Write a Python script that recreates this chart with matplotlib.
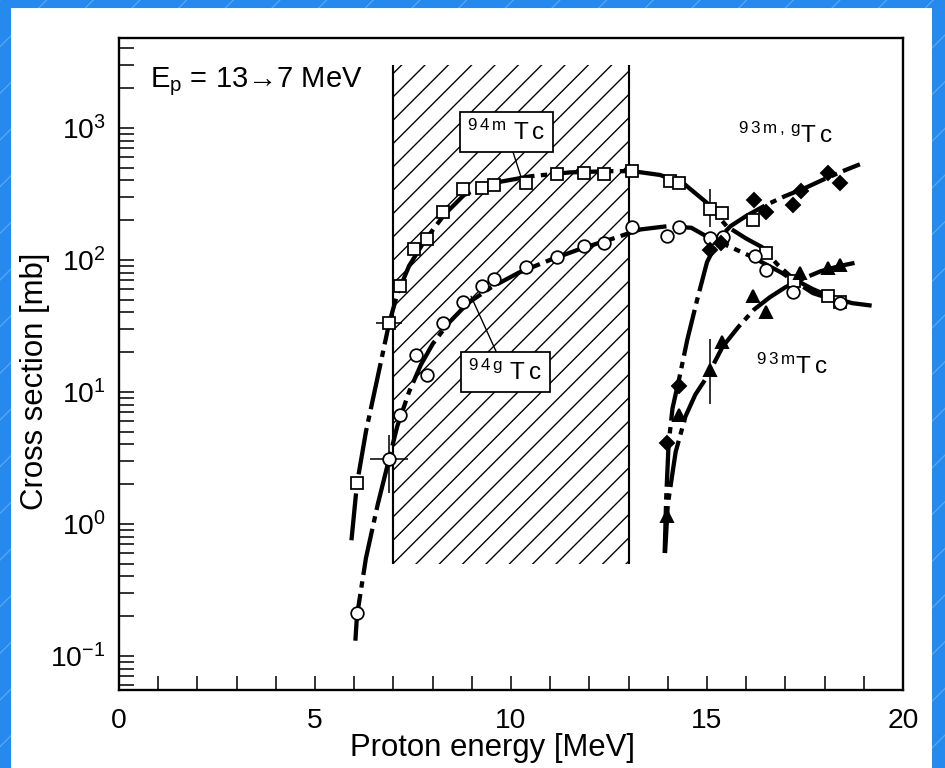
import numpy as np
import matplotlib
matplotlib.use("Agg")
import matplotlib.pyplot as plt
from matplotlib.ticker import FixedLocator, LogLocator, NullFormatter
from matplotlib.patches import Rectangle

plt.rcParams['font.family'] = ['Liberation Sans Narrow', 'Liberation Sans', 'DejaVu Sans']
plt.rcParams['mathtext.default'] = 'regular'
plt.rcParams['hatch.linewidth'] = 0.7

# puntos medidos (MeV, mb)
sq_e = [6.07, 6.89, 7.17, 7.53, 7.86, 8.27, 8.78, 9.26, 9.57, 10.38, 11.17, 11.86, 12.37,
        13.09, 14.06, 14.29, 15.08, 15.38, 16.17, 16.5, 17.22, 18.09, 18.39]
sq_s = [2.05, 33, 63, 121, 144, 231, 345, 351, 370, 383, 448, 456, 448,
        473, 397, 383, 243, 227, 200, 113, 69, 53, 48]

ci_e = [6.07, 6.89, 7.17, 7.58, 7.86, 8.27, 8.78, 9.26, 9.57, 10.38, 11.17, 11.86, 12.37,
        13.09, 13.98, 14.29, 15.08, 15.4, 16.22, 16.5, 17.2, 18.39]
ci_s = [0.21, 3.1, 6.7, 19, 13.5, 33, 48, 63, 72, 88, 106, 128, 134,
        178, 152, 178, 147, 149, 107, 84, 57, 47]

di_e = [13.98, 14.29, 15.08, 15.36, 16.2, 16.5, 17.2, 17.4, 18.09, 18.39]
di_s = [4.1, 11, 119, 134, 285, 230, 262, 330, 456, 383]

tr_e = [13.98, 14.29, 15.08, 15.38, 16.17, 16.5, 17.37, 18.09, 18.39]
tr_s = [1.15, 6.7, 14.7, 24, 53, 40, 80, 87, 92]

# curvas de ajuste
c94m_e = [5.93, 6.07, 6.3, 6.6, 6.89, 7.1, 7.4, 7.8, 8.3, 8.8, 9.5, 10.5, 11.5, 12.5, 13.1,
          13.8, 14.4, 15.0, 15.5, 16.0, 16.4, 16.8, 17.2, 17.7, 18.2, 18.7, 19.2]
c94m_s = [0.75, 2.0, 5, 13, 33, 55, 90, 140, 220, 310, 380, 430, 460, 470, 470,
          440, 380, 270, 180, 145, 125, 92, 72, 60, 52, 47, 45]

c94g_e = [6.03, 6.07, 6.3, 6.6, 6.89, 7.1, 7.4, 7.7, 8.0, 8.4, 8.9, 9.5, 10.2, 11.0, 11.8,
          12.6, 13.3, 14.0, 14.6, 15.0, 15.6, 16.1, 16.9, 17.7, 18.3, 18.7]
c94g_s = [0.13, 0.2, 0.55, 1.4, 3.1, 5.5, 10, 16, 23, 33, 47, 62, 80, 100, 122,
          145, 170, 180, 175, 150, 125, 107, 80, 56, 49, 46]

c93mg_e = [13.92, 13.96, 14.02, 14.12, 14.3, 14.5, 14.75, 15.0, 15.3, 15.6, 16.0, 16.5,
           17.0, 17.5, 18.0, 18.5, 18.9]
c93mg_s = [0.6, 1.6, 4.0, 7.5, 13, 25, 50, 96, 145, 180, 215, 260, 305, 350, 410, 475, 530]

c93m_e = [13.93, 14.0, 14.2, 14.45, 14.7, 15.0, 15.4, 15.8, 16.2, 16.6, 17.0, 17.4, 17.9, 18.4, 18.85]
c93m_s = [0.6, 1.4, 3.5, 6.5, 9.5, 13, 22, 31, 42, 52, 62, 71, 82, 90, 96]

# barras de error
eb_e = [6.89, 6.89, 15.08, 15.08]
eb_s = [33, 3.1, 243, 14.7]
eb_xerr = [0.33, 0.48, 0, 0]
eb_ylo = [0, 1.4, 65, 6.6]
eb_yhi = [0, 1.6, 102, 10.3]

# rango de energia en el blanco (13 -> 7 MeV)
banda_e = [7, 13]
banda_s = [0.5, 3000]

DPI = 140
fig = plt.figure(figsize=(945 / DPI, 768 / DPI), dpi=DPI)
fig.patch.set_facecolor('#2589ee')
# fondo azul con rayas finas
fig.add_artist(Rectangle((0, 0), 1, 1, transform=fig.transFigure, facecolor='#2589ee',
                         edgecolor='#56a6f4', hatch='/', linewidth=0, zorder=-1))
fig.add_artist(Rectangle((11 / 945, 0), 921 / 945, 760 / 768, transform=fig.transFigure,
                         facecolor='white', edgecolor='none', zorder=0))

ax = fig.add_axes([119 / 945, 78 / 768, 784 / 945, 652 / 768])
ax.set_yscale('log')
ax.set_xlim(0, 20)
ax.set_ylim(0.055, 4800)

# zona rayada
ax.fill_between(banda_e, banda_s[0], banda_s[1], facecolor='none', edgecolor='black',
                hatch='//', linewidth=0, zorder=1)
ax.vlines(banda_e, banda_s[0], banda_s[1], colors='black', lw=1.1, zorder=2)

estilo = dict(color='black', lw=2.2, linestyle=(0, (11, 1.5, 1.5, 1.5)), zorder=3,
              dash_capstyle='butt')
for ce, cs in [(c94m_e, c94m_s), (c94g_e, c94g_s), (c93mg_e, c93mg_s), (c93m_e, c93m_s)]:
    ax.plot(ce, cs, **estilo)

ax.errorbar(eb_e, eb_s, xerr=eb_xerr, yerr=[eb_ylo, eb_yhi], fmt='none', ecolor='black',
            elinewidth=0.8, capsize=0, zorder=4)

ax.plot(sq_e, sq_s, 's', ms=6.5, mfc='white', mec='black', mew=0.9, zorder=5)
ax.plot(ci_e, ci_s, 'o', ms=6.5, mfc='white', mec='black', mew=0.9, zorder=5)
ax.plot(di_e, di_s, 'D', ms=5.2, mfc='black', mec='black', zorder=5)
ax.plot(tr_e, tr_s, '^', ms=6.5, mfc='black', mec='black', zorder=5)

# ejes
ax.xaxis.set_major_locator(FixedLocator([0, 5, 10, 15, 20]))
ax.xaxis.set_minor_locator(FixedLocator(range(1, 20)))
ax.yaxis.set_major_locator(LogLocator(base=10, numticks=20))
ax.yaxis.set_minor_locator(LogLocator(base=10, subs=np.arange(2, 10), numticks=20))
ax.yaxis.set_minor_formatter(NullFormatter())
ax.tick_params(axis='x', which='both', direction='in', length=7, width=0.8, top=False,
               pad=9, labelsize=14.5)
ax.tick_params(axis='y', which='both', direction='in', length=7.5, width=0.8, right=False,
               pad=7, labelsize=14.5)
for s in ax.spines.values():
    s.set_linewidth(1.2)

fig.text(492 / 945, 1 - 748 / 768, 'Proton energy [MeV]', ha='center', va='center', fontsize=16)
fig.text(35 / 945, 1 - 381 / 768, 'Cross section [mb]', ha='center', va='center',
         rotation=90, fontsize=16)

ax.text(0.0395, 0.925, 'E$_{p}$ = 13\u21927 MeV', transform=ax.transAxes,
        fontsize=15, va='baseline')

caja = dict(boxstyle='square,pad=0.3', fc='white', ec='black', lw=0.9)
linea = dict(arrowstyle='-', lw=0.7, color='black', shrinkA=0, shrinkB=0)
ax.annotate(r'$^{9\,4\,m}$ T$\,$c ', xy=(10.25, 430), xytext=(9.89, 925), ha='center',
            va='center', fontsize=12.5, bbox=caja, arrowprops=linea, zorder=6)
ax.annotate(r'$^{9\,4\,g}$ T$\,$c ', xy=(8.98, 53), xytext=(9.86, 14.1), ha='center',
            va='center', fontsize=12.5, bbox=caja, arrowprops=linea, zorder=6)
ax.text(16.99, 885, r'$^{9\,3\,m\,,\,g}$T$\,$c', ha='center', va='center', fontsize=12.5)
ax.text(17.17, 15.7, r'$^{9\,3\,m}$T$\,$c', ha='center', va='center', fontsize=12.5)

fig.savefig('out.png', dpi=DPI, facecolor=fig.get_facecolor())
